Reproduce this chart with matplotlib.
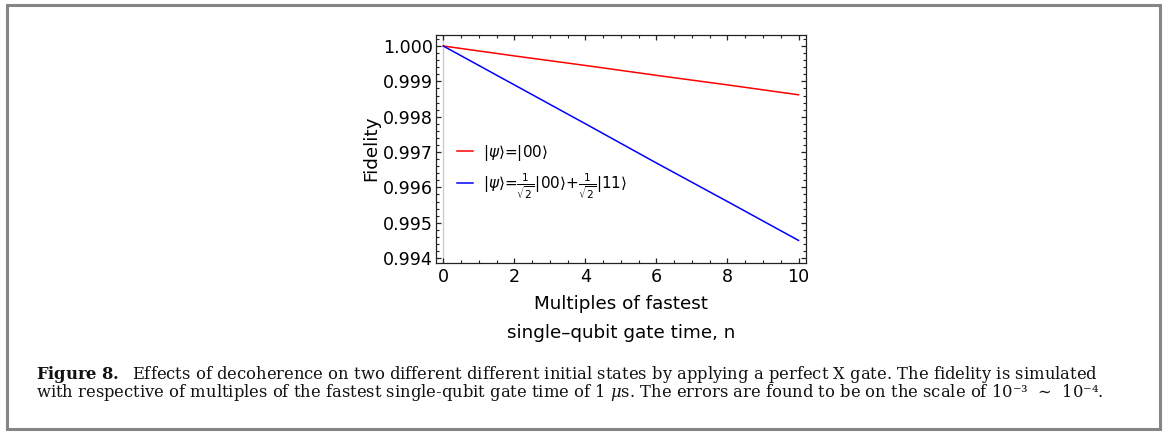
import matplotlib
matplotlib.use("Agg")
import matplotlib.pyplot as plt
from matplotlib.patches import Rectangle
from matplotlib.ticker import MultipleLocator, FormatStrFormatter

# ---- data ----
n_values = [0, 2, 4, 6, 8, 10]
fid_00 = [1.0, 0.99972, 0.99945, 0.99917, 0.99890, 0.99862]
fid_bell = [1.0, 0.99890, 0.99780, 0.99669, 0.99560, 0.99450]
label_00 = r"$|\psi\rangle$=$|00\rangle$"
label_bell = r"$|\psi\rangle$=$\frac{1}{\sqrt{2}}|00\rangle$+$\frac{1}{\sqrt{2}}|11\rangle$"
xlabel = "Multiples of fastest\nsingle\u2013qubit gate time, n"
ylabel = "Fidelity"
caption = (r"$\mathbf{Figure\ 8.}$  Effects of decoherence on two different different initial states "
           r"by applying a perfect X gate. The fidelity is simulated" "\n"
           r"with respective of multiples of the fastest single-qubit gate time of 1 $\mu$s. "
           "The errors are found to be on the scale of 10\u207b\u00b3  \u223c  10\u207b\u2074.")

W, H = 1163, 432
fig = plt.figure(figsize=(W / 100, H / 100), dpi=100)
plt.rcParams['mathtext.fontset'] = 'dejavusans'

# axes placement in pixels
ax_l, ax_r, ax_t, ax_b = 436, 806, 34.7, 262.7
ax = fig.add_axes([ax_l / W, 1 - ax_b / H, (ax_r - ax_l) / W, (ax_b - ax_t) / H])

ax.axvline(0, color="#cccccc", lw=1.0, zorder=1)
ax.plot(n_values, fid_00, color="#ff0000", lw=1.1, label=label_00, zorder=3)
ax.plot(n_values, fid_bell, color="#0000ff", lw=1.1, label=label_bell, zorder=3)

ax.set_xlim(-0.206, 10.21)
ax.set_ylim(0.99387, 1.00032)
ax.xaxis.set_major_locator(MultipleLocator(2))
ax.xaxis.set_minor_locator(MultipleLocator(0.5))
ax.yaxis.set_major_locator(MultipleLocator(0.001))
ax.yaxis.set_minor_locator(MultipleLocator(0.0002))
ax.yaxis.set_major_formatter(FormatStrFormatter("%.3f"))

ax.tick_params(which="both", direction="in", top=True, right=True, colors="#222222",
               labelcolor="black", labelsize=12.6)
ax.tick_params(which="major", length=3.5, width=0.9)
ax.tick_params(which="minor", length=2.0, width=0.8)
ax.tick_params(axis="y", pad=2)
ax.tick_params(axis="x", pad=4)
for s in ax.spines.values():
    s.set_linewidth(0.9)
    s.set_color("#222222")

ax.set_xlabel(xlabel, fontsize=13.2, linespacing=1.8, labelpad=6)
ax.set_ylabel(ylabel, fontsize=13.2, labelpad=2)

leg = ax.legend(loc="upper left", bbox_to_anchor=(0.035, 0.56), frameon=False, fontsize=11,
                handlelength=1.1, handletextpad=0.6, labelspacing=0.6, borderpad=0)

# caption (single multi-line text; baseline refers to the last line)
fig.text(36 / W, 1 - 397 / H, caption, family="DejaVu Serif", math_fontfamily="dejavuserif",
         fontsize=11.8, color="#111111", va="baseline", ha="left", linespacing=0.83)

# outer gray box
fig.patches.append(Rectangle((7 / W, 1 - 429 / H), (1160 - 7) / W, (429 - 5) / H,
                             transform=fig.transFigure, fill=False, edgecolor="#858585",
                             linewidth=2.2))

fig.savefig("out.png", dpi=100)
